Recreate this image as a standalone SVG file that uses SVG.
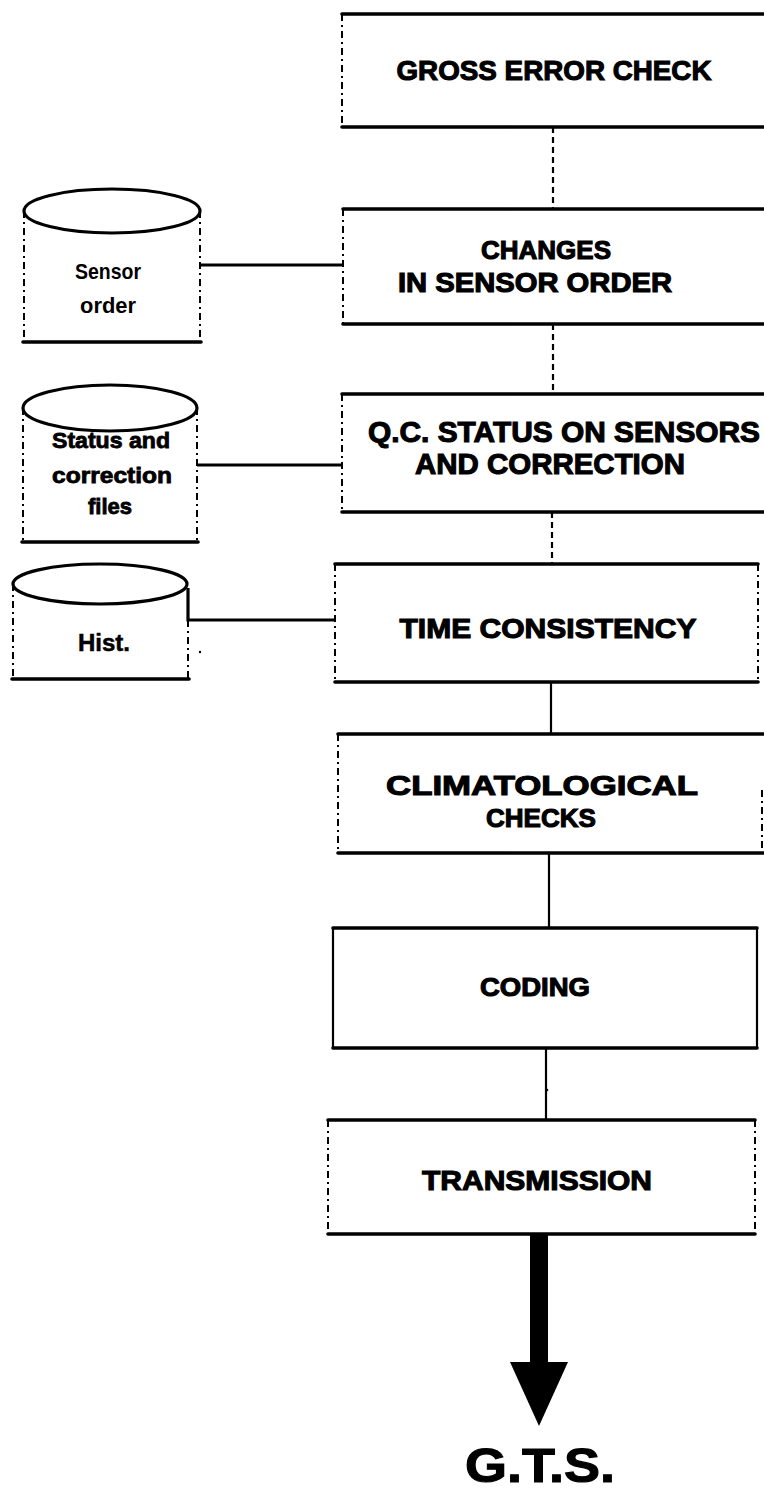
<svg xmlns="http://www.w3.org/2000/svg" width="764" height="1490" viewBox="0 0 764 1490">
  <defs>
    <style>
      .edge-h { stroke: #000; stroke-width: 3.6; fill: none; stroke-linecap: round; }
      .edge-v { stroke: #000; stroke-width: 2; fill: none; stroke-dasharray: 7 4 2 4; }
      .edge-vs { stroke: #000; stroke-width: 2.2; fill: none; }
      .link { stroke: #000; stroke-width: 3.2; fill: none; }
      .flow-d { stroke: #000; stroke-width: 2.2; fill: none; stroke-dasharray: 6 4; }
      .flow { stroke: #000; stroke-width: 2.2; fill: none; }
      .lid { stroke: #000; stroke-width: 3.2; fill: none; }
      .label { font-family: "Liberation Sans", Arial, sans-serif; font-weight: bold; fill: #000; stroke: #000; stroke-width: 1.1; text-anchor: middle; }
      .store { font-family: "Liberation Sans", Arial, sans-serif; font-weight: bold; fill: #000; text-anchor: middle; }
    </style>
  </defs>

  <rect x="0" y="0" width="764" height="1490" fill="#fff"/>

  <!-- connectors -->
  <g id="connectors">
    <line class="flow-d" x1="553" y1="127" x2="553" y2="209"/>
    <line class="flow-d" x1="553" y1="324" x2="553" y2="394"/>
    <line class="flow-d" x1="552" y1="512" x2="552" y2="564"/>
    <line class="flow" x1="551" y1="682" x2="551" y2="734"/>
    <line class="flow" x1="549" y1="853" x2="549" y2="928"/>
    <line class="flow" x1="546" y1="1048" x2="546" y2="1120"/>
    <circle cx="547" cy="1090" r="1.3" fill="#000"/>
    <!-- data stores to processing steps -->
    <line class="link" x1="200" y1="265" x2="343" y2="265"/>
    <line class="link" x1="197" y1="465" x2="342" y2="465"/>
    <polyline class="link" points="188,588 188,620 335,620"/>
    <!-- output to the G.T.S. -->
    <rect x="530" y="1234" width="18" height="130" fill="#000"/>
    <polygon points="510,1362 568,1362 539,1426" fill="#000"/>
  </g>

  <!-- processing steps -->
  <g id="gross-error-check">
    <line class="edge-h" x1="342" y1="14" x2="764" y2="14"/>
    <line class="edge-h" x1="342" y1="127" x2="764" y2="127"/>
    <line class="edge-v" x1="342" y1="14" x2="342" y2="127"/>
    <text class="label" x="554" y="80" font-size="28" textLength="315" lengthAdjust="spacingAndGlyphs">GROSS ERROR CHECK</text>
  </g>

  <g id="changes-in-sensor-order">
    <line class="edge-h" x1="343" y1="209" x2="764" y2="209"/>
    <line class="edge-h" x1="343" y1="324" x2="764" y2="324"/>
    <line class="edge-v" x1="343" y1="209" x2="343" y2="324"/>
    <text class="label" x="546" y="259" font-size="26">CHANGES</text>
    <text class="label" x="535" y="292" font-size="27" textLength="274" lengthAdjust="spacingAndGlyphs">IN SENSOR ORDER</text>
  </g>

  <g id="qc-status">
    <line class="edge-h" x1="342" y1="394" x2="764" y2="394"/>
    <line class="edge-h" x1="342" y1="512" x2="764" y2="512"/>
    <line class="edge-v" x1="342" y1="394" x2="342" y2="512"/>
    <text class="label" x="564" y="442" font-size="29" textLength="392" lengthAdjust="spacingAndGlyphs">Q.C. STATUS ON SENSORS</text>
    <text class="label" x="550" y="474" font-size="29" textLength="270" lengthAdjust="spacingAndGlyphs">AND CORRECTION</text>
  </g>

  <g id="time-consistency">
    <line class="edge-h" x1="335" y1="564" x2="758" y2="564"/>
    <line class="edge-h" x1="335" y1="682" x2="758" y2="682"/>
    <line class="edge-v" x1="335" y1="564" x2="335" y2="682"/>
    <line class="edge-v" x1="758" y1="564" x2="758" y2="682"/>
    <text class="label" x="548" y="638" font-size="28" textLength="297" lengthAdjust="spacingAndGlyphs">TIME  CONSISTENCY</text>
  </g>

  <g id="climatological-checks">
    <line class="edge-h" x1="338" y1="734" x2="764" y2="734"/>
    <line class="edge-h" x1="338" y1="853" x2="764" y2="853"/>
    <line class="edge-v" x1="338" y1="734" x2="338" y2="853"/>
    <line class="edge-v" x1="762" y1="790" x2="762" y2="853"/>
    <text class="label" x="542" y="795" font-size="28" textLength="312" lengthAdjust="spacingAndGlyphs">CLIMATOLOGICAL</text>
    <text class="label" x="541" y="827" font-size="26" textLength="110" lengthAdjust="spacingAndGlyphs">CHECKS</text>
  </g>

  <g id="coding">
    <line class="edge-h" x1="333" y1="928" x2="757" y2="928"/>
    <line class="edge-h" x1="333" y1="1048" x2="757" y2="1048"/>
    <line class="edge-vs" x1="333" y1="928" x2="333" y2="1048"/>
    <line class="edge-vs" x1="757" y1="928" x2="757" y2="1048"/>
    <text class="label" x="535" y="996" font-size="26" textLength="110" lengthAdjust="spacingAndGlyphs">CODING</text>
  </g>

  <g id="transmission">
    <line class="edge-h" x1="328" y1="1120" x2="755" y2="1120"/>
    <line class="edge-h" x1="328" y1="1234" x2="755" y2="1234"/>
    <line class="edge-v" x1="328" y1="1120" x2="328" y2="1234"/>
    <line class="edge-v" x1="755" y1="1120" x2="755" y2="1234"/>
    <text class="label" x="537" y="1190" font-size="28" textLength="230" lengthAdjust="spacingAndGlyphs">TRANSMISSION</text>
  </g>

  <g id="gts">
    <text class="label" x="540" y="1482" font-size="48" textLength="150" lengthAdjust="spacingAndGlyphs">G.T.S.</text>
  </g>

  <!-- data stores -->
  <g id="sensor-order-store">
    <ellipse class="lid" cx="112" cy="211" rx="88" ry="22"/>
    <line class="edge-v" x1="24" y1="211" x2="24" y2="342"/>
    <line class="edge-v" x1="200" y1="211" x2="200" y2="342"/>
    <line class="edge-h" x1="23" y1="342" x2="201" y2="342"/>
    <text class="store" x="108" y="279" font-size="22" textLength="66" lengthAdjust="spacingAndGlyphs">Sensor</text>
    <text class="store" x="108" y="313" font-size="22" textLength="56" lengthAdjust="spacingAndGlyphs">order</text>
  </g>

  <g id="status-files-store">
    <ellipse class="lid" cx="110" cy="408" rx="87" ry="23"/>
    <line class="edge-v" x1="23" y1="408" x2="23" y2="542"/>
    <line class="edge-v" x1="197" y1="408" x2="197" y2="542"/>
    <line class="edge-h" x1="22" y1="542" x2="198" y2="542"/>
    <text class="store" x="111" y="448" font-size="22" stroke="#000" stroke-width="0.8" textLength="118" lengthAdjust="spacingAndGlyphs">Status and</text>
    <text class="store" x="112" y="483" font-size="22" stroke="#000" stroke-width="0.8" textLength="120" lengthAdjust="spacingAndGlyphs">correction</text>
    <text class="store" x="110" y="514" font-size="22" stroke="#000" stroke-width="0.8">files</text>
  </g>

  <g id="hist-store">
    <ellipse class="lid" cx="100" cy="584" rx="87" ry="20"/>
    <line class="edge-v" x1="13" y1="584" x2="13" y2="679"/>
    <line class="edge-v" x1="188" y1="620" x2="188" y2="679"/>
    <line class="edge-h" x1="12" y1="679" x2="189" y2="679"/>
    <text class="store" x="104" y="651" font-size="23" font-weight="normal" stroke="#000" stroke-width="0.5" textLength="52" lengthAdjust="spacingAndGlyphs">Hist.</text>
    <circle cx="200" cy="652" r="1.2" fill="#000"/>
  </g>
</svg>
